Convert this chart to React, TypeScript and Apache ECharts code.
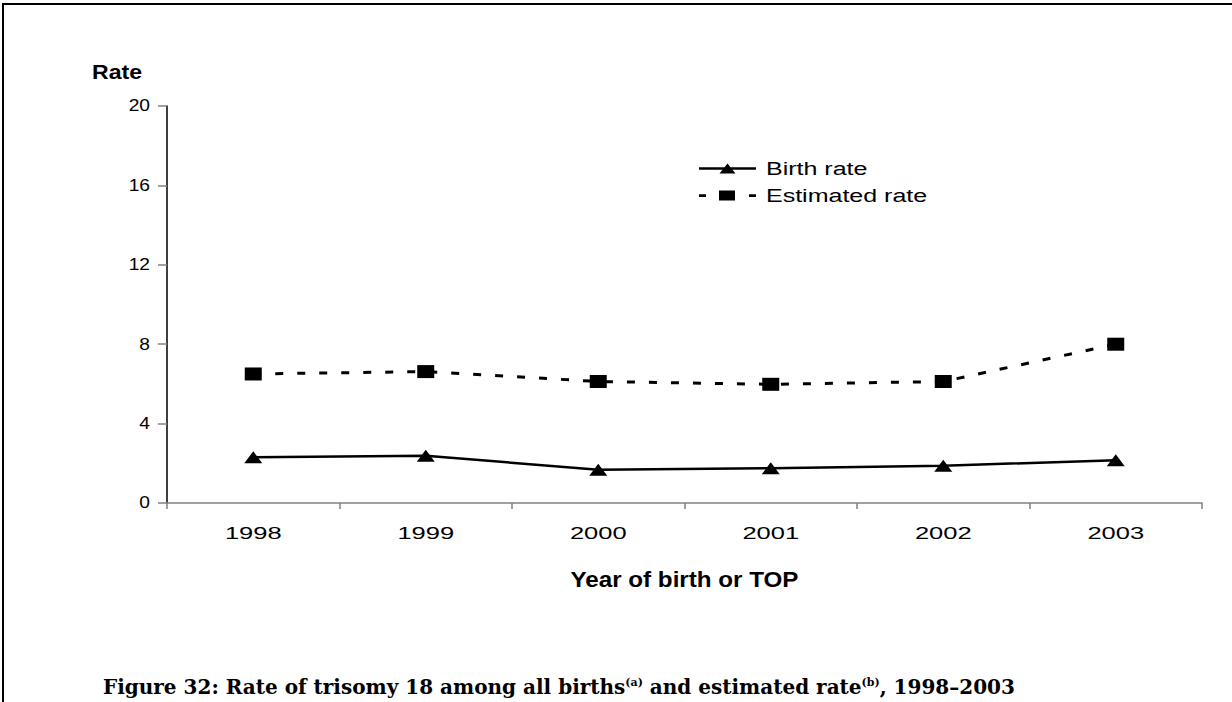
import React, { useEffect, useRef } from "react";
import * as echarts from "echarts";

// ---------- data ----------
const years = ["1998", "1999", "2000", "2001", "2002", "2003"];
const birthRate = [2.3, 2.38, 1.68, 1.75, 1.88, 2.15];
const estimatedRate = [6.5, 6.62, 6.12, 5.98, 6.12, 8.0];
const seriesNames = ["Birth rate", "Estimated rate"];
const yMin = 0;
const yMax = 20;
const yInterval = 4;
const xAxisTitle = "Year of birth or TOP";
const yAxisTitle = "Rate";
const captionText =
  "Figure 32: Rate of trisomy 18 among all births{sup|(a)} and estimated rate{sup|(b)}, 1998–2003";

// legend icons (line + marker drawn as one shape)
const birthIcon =
  "path://M0 3.8L57 3.8L57 6.2L0 6.2Z M20.5 10L28.5 0L36.5 10Z";
const estIcon =
  "path://M0 3.8L7 3.8L7 6.4L0 6.4Z M20 0L36 0L36 10L20 10Z M50 3.8L57 3.8L57 6.4L50 6.4Z";

const SANS = "Liberation Sans";
const SERIF = "DejaVu Serif";

// horizontal stretch of the (wide) sans texts, keyed by font size
const STRETCH: Record<string, number> = {
  "16": 1.2,
  "17": 1.5,
  "18": 1.39,
  "21": 1.1,
  "22": 1.1,
};

function stretchTexts(root: HTMLElement) {
  root.querySelectorAll("text").forEach((el) => {
    const t = el.getAttribute("transform") || "";
    if (t.indexOf(" scale(") >= 0) return;
    const st = el.getAttribute("style") || "";
    const m = st.match(/(\d+(?:\.\d+)?)px/);
    if (!m) return;
    const s = STRETCH[m[1]];
    if (!s) return;
    const x = parseFloat(el.getAttribute("x") || "0") || 0;
    el.setAttribute(
      "transform",
      `${t} translate(${x} 0) scale(${s} 1) translate(${-x} 0)`.trim()
    );
  });
}

export default function App() {
  const ref = useRef<HTMLDivElement>(null);

  useEffect(() => {
    const el = ref.current;
    if (!el) return;
    const chart = echarts.init(el, null, { renderer: "svg" });

    const option: any = {
      animation: false,
      backgroundColor: "#ffffff",
      grid: { left: 167, right: 30, top: 106, bottom: 199 },
      legend: {
        orient: "vertical",
        left: 699,
        top: 159.5,
        padding: 0,
        itemWidth: 57,
        itemHeight: 10,
        itemGap: 9,
        selectedMode: false,
        textStyle: {
          fontFamily: SANS,
          fontSize: 18,
          color: "#000",
          lineHeight: 14,
          padding: [0, 0, 0, 5],
        },
        itemStyle: { color: "#000", borderWidth: 0 },
        data: [
          { name: seriesNames[0], icon: birthIcon },
          { name: seriesNames[1], icon: estIcon },
        ],
      },
      xAxis: {
        type: "category",
        data: years,
        boundaryGap: true,
        axisLine: { show: true, lineStyle: { color: "#808080", width: 1.5 } },
        axisTick: { show: true, length: 6, lineStyle: { color: "#808080", width: 1.5 } },
        axisLabel: { fontFamily: SANS, fontSize: 17, color: "#000", margin: 22 },
        splitLine: { show: false },
        name: xAxisTitle,
        nameLocation: "middle",
        nameGap: 76,
        nameTextStyle: {
          fontFamily: SANS,
          fontSize: 22,
          fontWeight: "bold",
          color: "#000",
          verticalAlign: "middle",
        },
      },
      yAxis: {
        type: "value",
        min: yMin,
        max: yMax,
        interval: yInterval,
        axisLine: { show: true, lineStyle: { color: "#000", width: 1.5 } },
        axisTick: { show: true, length: 9, lineStyle: { color: "#808080", width: 1.5 } },
        axisLabel: { fontFamily: SANS, fontSize: 16, color: "#000", margin: 17 },
        splitLine: { show: false },
        name: yAxisTitle,
        nameLocation: "end",
        nameGap: 34,
        nameTextStyle: {
          fontFamily: SANS,
          fontSize: 21,
          fontWeight: "bold",
          color: "#000",
          align: "right",
          verticalAlign: "middle",
          padding: [0, 25, 0, 0],
        },
      },
      series: [
        {
          name: seriesNames[0],
          type: "line",
          data: birthRate,
          symbol: "triangle",
          symbolSize: [18, 12],
          showSymbol: true,
          lineStyle: { color: "#000", width: 2.5 },
          itemStyle: { color: "#000", borderWidth: 0 },
          emphasis: { disabled: true },
        },
        {
          name: seriesNames[1],
          type: "line",
          data: estimatedRate,
          symbol: "rect",
          symbolSize: [17, 13],
          showSymbol: true,
          lineStyle: { color: "#000", width: 3, type: [8, 14] },
          itemStyle: { color: "#000", borderWidth: 0 },
          emphasis: { disabled: true },
        },
      ],
      graphic: [
        {
          type: "line",
          shape: { x1: 2, y1: 4, x2: 1232, y2: 4 },
          style: { stroke: "#000", lineWidth: 2 },
        },
        {
          type: "line",
          shape: { x1: 3, y1: 3, x2: 3, y2: 702 },
          style: { stroke: "#000", lineWidth: 2 },
        },
        {
          type: "text",
          x: 103,
          y: 687,
          style: {
            text: captionText,
            fontFamily: SERIF,
            fontSize: 20,
            fontWeight: "bold",
            fill: "#000",
            verticalAlign: "middle",
            rich: {
              sup: {
                fontFamily: SERIF,
                fontSize: 11,
                fontWeight: "bold",
                fill: "#000",
                verticalAlign: "top",
              },
            },
          },
        },
      ],
    };

    chart.setOption(option);
    stretchTexts(el);
    const onFinished = () => stretchTexts(el);
    chart.on("finished", onFinished);
    return () => {
      chart.off("finished", onFinished);
      chart.dispose();
    };
  }, []);

  return (
    <div
      ref={ref}
      style={{
        position: "absolute",
        left: 0,
        top: 0,
        width: 1232,
        height: 702,
        background: "#fff",
      }}
    />
  );
}
